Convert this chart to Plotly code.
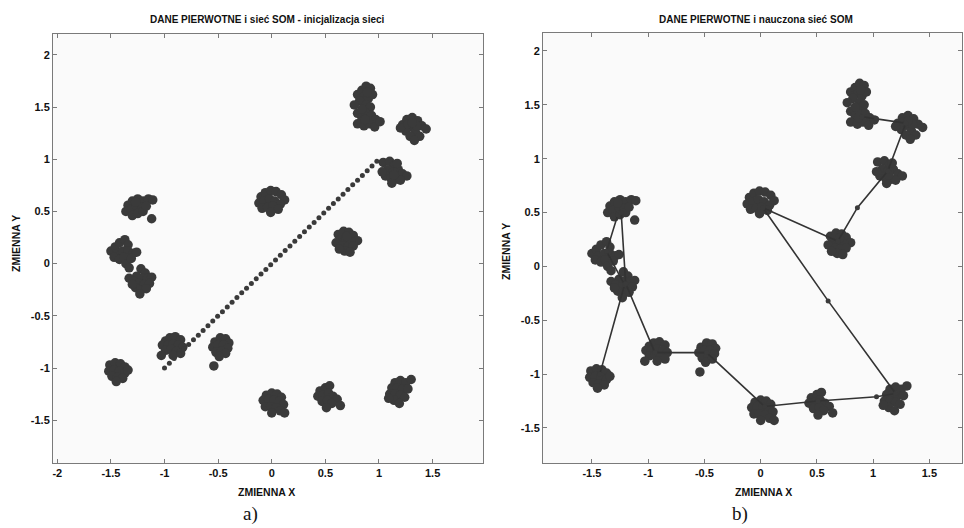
import plotly.graph_objects as go

# ---------------- data ----------------
# primary data points, grouped by cluster
data_x = [
    # C1 (top, elongated)
    0.80, 0.84, 0.88, 0.92, 0.86, 0.90, 0.94, 0.82, 0.88, 0.92, 0.80, 0.84, 0.88, 0.93, 0.97, 0.80, 0.86, 0.91, 0.96, 1.01, 0.84, 0.77, 0.87, 0.89,
    # C2
    1.22, 1.26, 1.31, 1.36, 1.40, 1.44, 1.30, 1.25, 1.34, 1.38, 1.29, 1.33, 1.20, 1.27, 1.35, 1.31,
    # C3
    1.04, 1.10, 1.14, 1.08, 1.13, 1.18, 1.22, 1.26, 1.06, 1.11, 1.16, 1.20, 1.12, 1.03, 1.17, 1.14,
    # C4
    0.62, 0.67, 0.72, 0.76, 0.80, 0.64, 0.69, 0.74, 0.60, 0.66, 0.71, 0.76, 0.68, 0.73, 0.63, 0.70,
    # C5
    -0.10, -0.06, -0.01, 0.04, 0.09, 0.12, -0.12, -0.07, -0.02, 0.03, 0.08, -0.09, -0.04, 0.01, 0.06, -0.01,
    # C6
    -1.34, -1.30, -1.25, -1.20, -1.15, -1.11, -1.36, -1.31, -1.26, -1.21, -1.30, -1.25, -1.20, -1.17, -1.12, -1.27,
    # C7
    -1.50, -1.46, -1.42, -1.37, -1.34, -1.44, -1.39, -1.34, -1.29, -1.26, -1.47, -1.42, -1.38, -1.36, -1.33, -1.31,
    # C8
    -1.22, -1.18, -1.26, -1.21, -1.16, -1.12, -1.33, -1.29, -1.24, -1.19, -1.14, -1.27, -1.22, -1.17, -1.23, -1.30,
    # C9
    -0.99, -0.95, -0.90, -0.85, -1.02, -0.97, -0.92, -0.87, -0.83, -0.99, -0.94, -0.89, -0.85, -1.03, -0.92,
    # C10
    -0.53, -0.48, -0.43, -0.40, -0.55, -0.50, -0.45, -0.41, -0.52, -0.47, -0.43, -0.49, -0.54,
    # C11
    -1.51, -1.46, -1.41, -1.37, -1.52, -1.47, -1.42, -1.37, -1.49, -1.44, -1.39, -1.45, -1.34,
    # C12
    -0.05, 0.00, 0.05, 0.09, -0.08, -0.03, 0.02, 0.07, 0.11, -0.06, -0.01, 0.04, 0.08, 0.00, 0.12,
    # C13
    0.45, 0.50, 0.54, 0.43, 0.48, 0.53, 0.57, 0.61, 0.47, 0.52, 0.56, 0.64, 0.51,
    # C14
    1.15, 1.20, 1.25, 1.30, 1.12, 1.17, 1.22, 1.27, 1.10, 1.15, 1.20, 1.24, 1.14, 1.19, 1.09,
]
data_y = [
    # C1
    1.62, 1.66, 1.70, 1.68, 1.60, 1.58, 1.62, 1.56, 1.52, 1.50, 1.44, 1.40, 1.44, 1.42, 1.38, 1.34, 1.32, 1.34, 1.31, 1.36, 1.48, 1.52, 1.38, 1.64,
    # C2
    1.33, 1.38, 1.40, 1.37, 1.32, 1.29, 1.31, 1.27, 1.26, 1.22, 1.22, 1.18, 1.30, 1.34, 1.32, 1.35,
    # C3
    0.97, 0.98, 0.94, 0.90, 0.88, 0.90, 0.86, 0.84, 0.84, 0.82, 0.81, 0.80, 0.77, 0.88, 0.96, 0.85,
    # C4
    0.28, 0.31, 0.30, 0.27, 0.22, 0.23, 0.24, 0.21, 0.20, 0.17, 0.16, 0.17, 0.12, 0.11, 0.14, 0.26,
    # C5
    0.64, 0.68, 0.70, 0.69, 0.66, 0.61, 0.58, 0.60, 0.62, 0.60, 0.57, 0.53, 0.54, 0.55, 0.52, 0.49,
    # C6
    0.56, 0.60, 0.62, 0.60, 0.62, 0.61, 0.50, 0.52, 0.55, 0.54, 0.46, 0.48, 0.50, 0.55, 0.43, 0.59,
    # C7
    0.12, 0.16, 0.20, 0.23, 0.18, 0.10, 0.12, 0.12, 0.10, 0.11, 0.06, 0.04, 0.06, 0.00, -0.04, 0.05,
    # C8
    -0.05, -0.09, -0.12, -0.14, -0.14, -0.13, -0.14, -0.17, -0.19, -0.20, -0.19, -0.23, -0.25, -0.24, -0.29, -0.20,
    # C9
    -0.74, -0.71, -0.70, -0.73, -0.78, -0.78, -0.77, -0.78, -0.80, -0.83, -0.82, -0.84, -0.86, -0.88, -0.88,
    # C10
    -0.75, -0.71, -0.72, -0.76, -0.80, -0.78, -0.78, -0.81, -0.85, -0.84, -0.86, -0.89, -0.98,
    # C11
    -0.97, -0.95, -0.96, -0.99, -1.03, -1.02, -1.03, -1.05, -1.08, -1.09, -1.10, -1.13, -1.02,
    # C12
    -1.26, -1.24, -1.25, -1.28, -1.31, -1.30, -1.31, -1.32, -1.35, -1.37, -1.37, -1.38, -1.41, -1.43, -1.43,
    # C13
    -1.22, -1.19, -1.17, -1.27, -1.26, -1.24, -1.27, -1.30, -1.32, -1.31, -1.34, -1.36, -1.38,
    # C14
    -1.14, -1.12, -1.14, -1.11, -1.19, -1.19, -1.20, -1.20, -1.25, -1.25, -1.26, -1.28, -1.31, -1.34, -1.29,
]

# SOM neurons after initialisation (dotted diagonal)
init_x = [-1.000, -0.955, -0.910, -0.865, -0.820, -0.775, -0.730, -0.685, -0.640, -0.595,
          -0.550, -0.505, -0.460, -0.415, -0.370, -0.325, -0.280, -0.235, -0.190, -0.145,
          -0.100, -0.055, -0.010, 0.035, 0.080, 0.125, 0.170, 0.215, 0.260, 0.305,
          0.350, 0.395, 0.440, 0.485, 0.530, 0.575, 0.620, 0.665, 0.710, 0.755,
          0.800, 0.845, 0.890, 0.935, 0.980]
init_y = [-1.000, -0.955, -0.910, -0.865, -0.820, -0.775, -0.730, -0.685, -0.640, -0.595,
          -0.550, -0.505, -0.460, -0.415, -0.370, -0.325, -0.280, -0.235, -0.190, -0.145,
          -0.100, -0.055, -0.010, 0.035, 0.080, 0.125, 0.170, 0.215, 0.260, 0.305,
          0.350, 0.395, 0.440, 0.485, 0.530, 0.575, 0.620, 0.665, 0.710, 0.755,
          0.800, 0.845, 0.890, 0.935, 0.980]

# SOM neurons after training (chain order)
som_x = [-1.43, -1.21, -1.37, -1.27, -1.24, -1.20, -0.94, -0.48, 0.035, 0.51, 1.03, 1.20, 0.60, 0.02, 0.686, 0.86, 1.13, 1.29, 1.03, 0.90]
som_y = [-1.00, -0.17, 0.14, 0.48, 0.50, -0.16, -0.80, -0.80, -1.30, -1.25, -1.21, -1.18, -0.32, 0.545, 0.235, 0.545, 0.885, 1.33, 1.37, 1.39]

x_ticks_a = [-2, -1.5, -1, -0.5, 0, 0.5, 1, 1.5]
x_ticks_b = [-1.5, -1, -0.5, 0, 0.5, 1, 1.5]
y_ticks = [-1.5, -1, -0.5, 0, 0.5, 1, 1.5, 2]

title_a = "DANE PIERWOTNE i sieć SOM - inicjalizacja sieci"
title_b = "DANE PIERWOTNE i nauczona sieć SOM"

# ---------------- figure ----------------
W, H = 964, 528
DOT = "#3a3a3a"
FONT = "Liberation Sans"

fig = go.Figure()

# panel a
fig.add_trace(go.Scatter(x=data_x, y=data_y, mode="markers", xaxis="x", yaxis="y",
                         marker=dict(size=9.5, color=DOT, line=dict(width=0)), showlegend=False))
fig.add_trace(go.Scatter(x=init_x, y=init_y, mode="markers", xaxis="x", yaxis="y",
                         marker=dict(size=5, color=DOT, line=dict(width=0)), showlegend=False))
# panel b
fig.add_trace(go.Scatter(x=data_x, y=data_y, mode="markers", xaxis="x2", yaxis="y2",
                         marker=dict(size=9.5, color=DOT, line=dict(width=0)), showlegend=False))
fig.add_trace(go.Scatter(x=som_x, y=som_y, mode="lines+markers", xaxis="x2", yaxis="y2",
                         line=dict(color="#333333", width=1.6),
                         marker=dict(size=5, color=DOT), showlegend=False))


def px_dom(a, b, total):
    return [a / total, b / total]


def py_dom(top, bottom):
    return [1 - bottom / H, 1 - top / H]


axis_common = dict(
    showline=True, linecolor="#7a7a7a", linewidth=1, mirror="ticks",
    ticks="inside", ticklen=4, tickcolor="#7a7a7a", showgrid=False, zeroline=False,
    tickfont=dict(family=FONT, size=11, color="#111111", weight="bold"),
)

fig.update_layout(
    width=W, height=H, margin=dict(l=0, r=0, t=0, b=0),
    paper_bgcolor="#ffffff", plot_bgcolor="#fafafa",
    xaxis=dict(domain=px_dom(53, 483, W), range=[-2.04, 1.97], tickvals=x_ticks_a,
               ticktext=[f"{v:g}" for v in x_ticks_a], anchor="y", **axis_common),
    yaxis=dict(domain=py_dom(34, 463), range=[-1.91, 2.2], tickvals=y_ticks,
               ticktext=[f"{v:g}" for v in y_ticks], anchor="x", **axis_common),
    xaxis2=dict(domain=px_dom(543, 962, W), range=[-1.935, 1.79], tickvals=x_ticks_b,
                ticktext=[f"{v:g}" for v in x_ticks_b], anchor="y2", **axis_common),
    yaxis2=dict(domain=py_dom(33, 463), range=[-1.825, 2.167], tickvals=y_ticks,
                ticktext=[f"{v:g}" for v in y_ticks], anchor="x2", **axis_common),
)

def ann(text, px, py, size, family=FONT, bold=True, angle=0):
    fig.add_annotation(text=text, x=px / W, y=1 - py / H, xref="paper", yref="paper",
                       showarrow=False, xanchor="center", yanchor="middle", textangle=angle,
                       font=dict(family=family, size=size, color="#111111",
                                 weight="bold" if bold else "normal"))

ann(title_a, 267, 20, 10)
ann(title_b, 756, 20, 10)
ann("ZMIENNA X", 266, 492, 10.5)
ann("ZMIENNA X", 763, 492, 10.5)
ann("ZMIENNA Y", 16, 244, 10.5, angle=-90)
ann("ZMIENNA Y", 506, 252, 10.5, angle=-90)
ann("a)", 250, 514, 19, family="Liberation Serif", bold=False)
ann("b)", 740, 514, 19, family="Liberation Serif", bold=False)

fig.write_html(
    "out.html",
    config={"displayModeBar": False},
    post_script="document.body.style.margin='0';document.body.style.overflow='hidden';",
)
